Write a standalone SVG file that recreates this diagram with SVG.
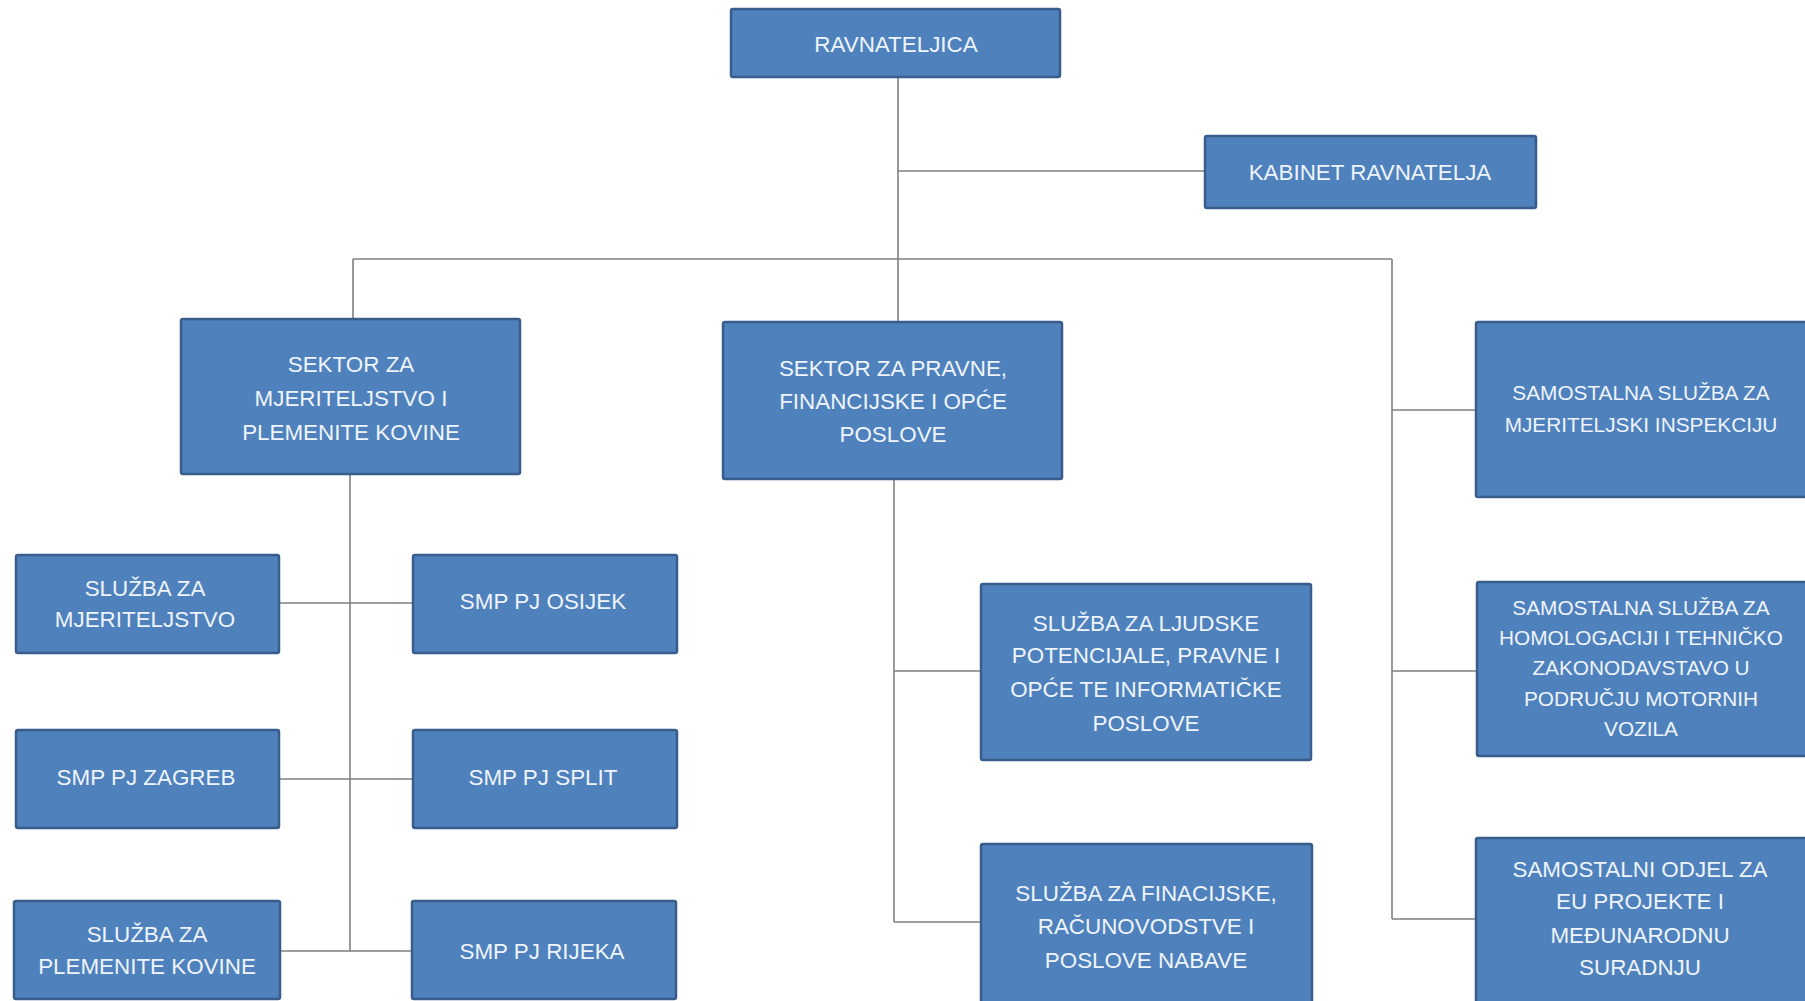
<svg xmlns="http://www.w3.org/2000/svg" width="1805" height="1001" viewBox="0 0 1805 1001">
<style>
.box{fill:#4F81BD;stroke:#385D8A;stroke-width:2.5}
.t{font-family:"Liberation Sans",Arial,sans-serif;font-size:22.4px;fill:#EEF4FA;text-anchor:middle}
.r{font-size:20.8px}
.c{stroke:#808080;stroke-width:1.6;fill:none}
</style>
<rect width="1805" height="1001" fill="#ffffff"/>
<g id="connectors">
<path class="c" d="M898 77V322"/>
<path class="c" d="M898 171H1205"/>
<path class="c" d="M353 259H1392"/>
<path class="c" d="M353 259V319"/>
<path class="c" d="M1392 259V919"/>
<path class="c" d="M1392 410H1476M1392 671H1477M1392 919H1476"/>
<path class="c" d="M894 479V922"/>
<path class="c" d="M894 671H981M894 922H981"/>
<path class="c" d="M350 474V951"/>
<path class="c" d="M279 603H413M279 779H413M280 951H412"/>
</g>
<g id="n-ravnateljica"><rect class="box" x="731" y="9" width="329" height="68" rx="2"/><text class="t" x="896" y="52">RAVNATELJICA</text></g>
<g id="n-kabinet"><rect class="box" x="1205" y="136" width="331" height="72" rx="2"/><text class="t" x="1370" y="180">KABINET RAVNATELJA</text></g>
<g id="n-sektor-mjer"><rect class="box" x="181" y="319" width="339" height="155" rx="2"/><text class="t" x="351" y="372">SEKTOR ZA</text><text class="t" x="351" y="406">MJERITELJSTVO I</text><text class="t" x="351" y="440">PLEMENITE KOVINE</text></g>
<g id="n-sektor-pravne"><rect class="box" x="723" y="322" width="339" height="157" rx="2"/><text class="t" x="893" y="376">SEKTOR ZA PRAVNE,</text><text class="t" x="893" y="409">FINANCIJSKE I OPĆE</text><text class="t" x="893" y="442">POSLOVE</text></g>
<g id="n-sam-inspekcija"><rect class="box" x="1476" y="322" width="340" height="175" rx="2"/><text class="t r" x="1641" y="400">SAMOSTALNA SLUŽBA ZA</text><text class="t r" x="1641" y="432">MJERITELJSKI INSPEKCIJU</text></g>
<g id="n-sam-homologacija"><rect class="box" x="1477" y="582" width="340" height="174" rx="2"/><text class="t r" x="1641" y="615">SAMOSTALNA SLUŽBA ZA</text><text class="t r" x="1641" y="645">HOMOLOGACIJI I TEHNIČKO</text><text class="t r" x="1641" y="675">ZAKONODAVSTAVO U</text><text class="t r" x="1641" y="706">PODRUČJU MOTORNIH</text><text class="t r" x="1641" y="736">VOZILA</text></g>
<g id="n-sam-eu"><rect class="box" x="1476" y="838" width="340" height="175" rx="2"/><text class="t" x="1640" y="877">SAMOSTALNI ODJEL ZA</text><text class="t" x="1640" y="909">EU PROJEKTE I</text><text class="t" x="1640" y="943">MEĐUNARODNU</text><text class="t" x="1640" y="975">SURADNJU</text></g>
<g id="n-ljudske"><rect class="box" x="981" y="584" width="330" height="176" rx="2"/><text class="t" x="1146" y="631">SLUŽBA ZA LJUDSKE</text><text class="t" x="1146" y="663">POTENCIJALE, PRAVNE I</text><text class="t" x="1146" y="697">OPĆE TE INFORMATIČKE</text><text class="t" x="1146" y="731">POSLOVE</text></g>
<g id="n-financijske"><rect class="box" x="981" y="844" width="331" height="170" rx="2"/><text class="t" x="1146" y="901">SLUŽBA ZA FINACIJSKE,</text><text class="t" x="1146" y="934">RAČUNOVODSTVE I</text><text class="t" x="1146" y="968">POSLOVE NABAVE</text></g>
<g id="n-sluzba-mjer"><rect class="box" x="16" y="555" width="263" height="98" rx="2"/><text class="t" x="145" y="596">SLUŽBA ZA</text><text class="t" x="145" y="627">MJERITELJSTVO</text></g>
<g id="n-osijek"><rect class="box" x="413" y="555" width="264" height="98" rx="2"/><text class="t" x="543" y="609">SMP PJ OSIJEK</text></g>
<g id="n-zagreb"><rect class="box" x="16" y="730" width="263" height="98" rx="2"/><text class="t" x="146" y="785">SMP PJ ZAGREB</text></g>
<g id="n-split"><rect class="box" x="413" y="730" width="264" height="98" rx="2"/><text class="t" x="543" y="785">SMP PJ SPLIT</text></g>
<g id="n-plemenite"><rect class="box" x="14" y="901" width="266" height="98" rx="2"/><text class="t" x="147" y="942">SLUŽBA ZA</text><text class="t" x="147" y="974">PLEMENITE KOVINE</text></g>
<g id="n-rijeka"><rect class="box" x="412" y="901" width="264" height="98" rx="2"/><text class="t" x="542" y="959">SMP PJ RIJEKA</text></g>
</svg>
